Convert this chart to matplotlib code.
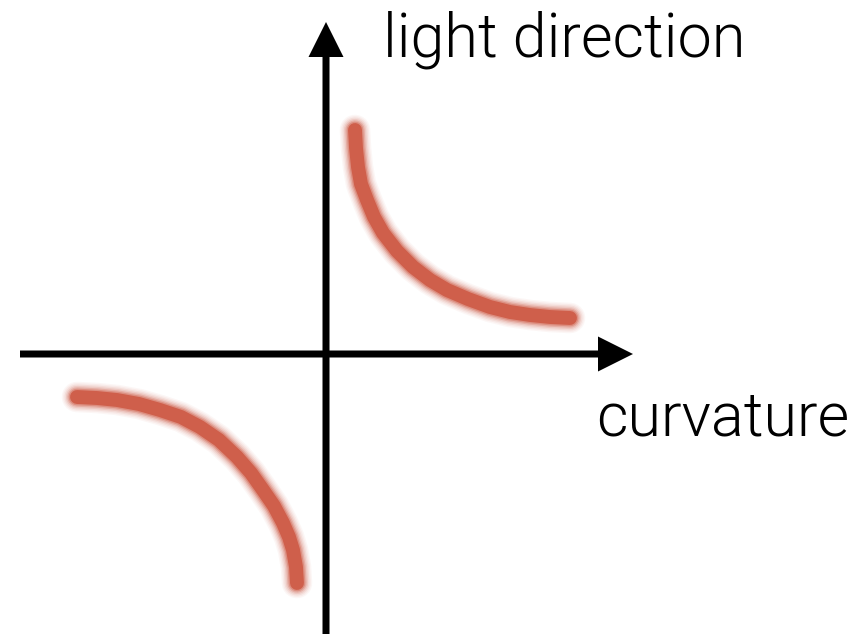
import numpy as np
import matplotlib
matplotlib.use("Agg")
import matplotlib.pyplot as plt

# Diagram in pixel space (origin top-left)
W, H = 858, 634
origin = (326, 354)

# curves
upper_x = [355, 356, 358, 361, 367, 374, 383, 397, 413, 430, 447, 468, 490, 510, 530, 550, 570]
upper_y = [130, 148, 167, 184, 200, 217, 233, 251, 267, 280, 290, 299, 307, 312, 315, 317, 318]
lower_x = [77, 97, 117, 139, 160, 181, 200, 219, 237, 251, 263, 274, 283, 289, 293, 296, 297]
lower_y = [397, 398, 400, 404, 410, 417, 427, 440, 457, 473, 490, 506, 523, 537, 550, 567, 583]

red = '#cf5f4b'

fig = plt.figure(figsize=(W / 100, H / 100), dpi=100)
ax = fig.add_axes([0, 0, 1, 1])
ax.set_xlim(0, W)
ax.set_ylim(H, 0)
ax.axis('off')

# soft, blurred looking strokes
for lw, a in [(22, 0.05), (20, 0.07), (18, 0.1), (16, 0.15), (14, 0.25), (12, 0.4), (10, 1.0)]:
    for xs, ys in [(upper_x, upper_y), (lower_x, lower_y)]:
        ax.plot(xs, ys, color=red, lw=lw, alpha=a, solid_capstyle='round',
                solid_joinstyle='round')

# axes with arrowheads
ax.arrow(20, origin[1], 633 - 20, 0, width=7, head_width=35, head_length=35,
         length_includes_head=True, color='black', lw=0)
ax.arrow(origin[0], H, 0, 22 - H, width=7, head_width=35, head_length=35,
         length_includes_head=True, color='black', lw=0)

font = ['Roboto', 'DejaVu Sans']
ax.text(383, 40, 'light direction', fontsize=44, family=font,
        fontweight=300, va='center', ha='left')
ax.text(596, 419, 'curvature', fontsize=44, family=font,
        fontweight=300, va='center', ha='left')

fig.savefig('out.png', dpi=100)
